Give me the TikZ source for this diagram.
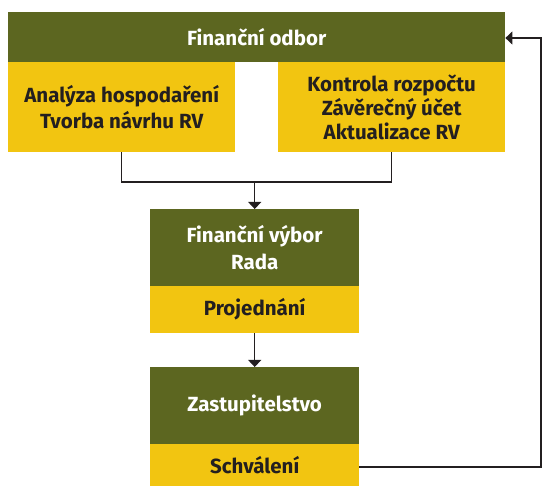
\documentclass[tikz,border=0pt]{standalone}
\usepackage{fontspec}
\setmainfont{Fira Sans}
\usetikzlibrary{arrows.meta}
\definecolor{olive}{HTML}{5C6620}
\definecolor{gold}{HTML}{F2C511}
\definecolor{ink}{HTML}{231F20}
\tikzset{
  box/.style={anchor=north west, inner sep=0pt, align=center, font=\fontsize{20.5}{26.5}\selectfont\bfseries},
  greenbox/.style={box, fill=olive, text=white},
  yellowbox/.style={box, fill=gold, text=ink},
  conn/.style={draw=ink, line width=1.1pt, line join=miter},
  arr/.style={conn, -{Triangle[width=13pt,length=7pt]}}
}
\begin{document}
\begin{tikzpicture}[x=1pt,y=-1pt]
\useasboundingbox (0,0) rectangle (542,486);
\node[greenbox, minimum width=497pt, minimum height=50pt] (fo) at (8,12) {Finanční odbor};
\node[yellowbox, minimum width=227pt, minimum height=90pt] (an) at (8,62) {Analýza hospodaření\\Tvorba návrhu RV};
\node[yellowbox, minimum width=227pt, minimum height=90pt, font=\fontsize{20.5}{24.3}\selectfont\bfseries] (ko) at (278,62) {Kontrola rozpočtu\\Závěrečný účet\\Aktualizace RV};
\node[greenbox, minimum width=209pt, minimum height=77pt] (fv) at (150,209) {Finanční výbor\\Rada};
\node[yellowbox, minimum width=209pt, minimum height=47pt] (pr) at (150,286) {Projednání};
\node[greenbox, minimum width=209pt, minimum height=77pt] (za) at (150,367) {Zastupitelstvo};
\node[yellowbox, minimum width=209pt, minimum height=42pt] (sc) at (150,444) {Schválení};
\coordinate (j) at (fv.north |- 0,182);
\draw[conn] (an.south) |- (j) -| (ko.south);
\draw[arr] (j) -- (fv.north);
\draw[arr] (pr.south) -- (za.north);
\coordinate (c1) at (541,467);
\coordinate (c2) at (541,38);
\draw[arr] (sc.east |- c1) -- (c1) -- (c2) -- (fo.east |- c2);
\end{tikzpicture}
\end{document}
